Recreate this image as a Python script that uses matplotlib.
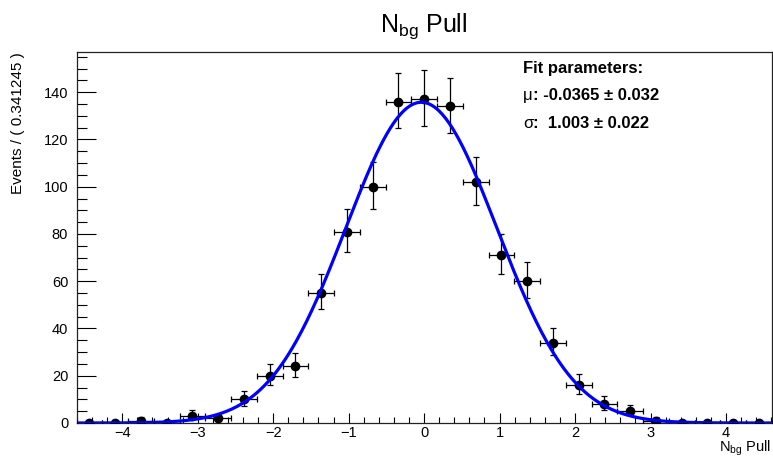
import numpy as np
import matplotlib
matplotlib.use("Agg")
import matplotlib.pyplot as plt
from matplotlib.ticker import MultipleLocator

plt.rcParams['font.family'] = ['Liberation Sans', 'DejaVu Sans']
plt.rcParams['mathtext.fontset'] = 'custom'
plt.rcParams['mathtext.rm'] = 'Liberation Sans'
plt.rcParams['mathtext.it'] = 'Liberation Sans:italic'
plt.rcParams['mathtext.bf'] = 'Liberation Sans:bold'
plt.rcParams['axes.unicode_minus'] = True

# binned pull distribution (27 bins of width 0.341245)
bin_width = 0.341245
x_lo, n_bins = -4.606, 27
counts = [0, 0, 1, 0, 3, 2, 10, 20, 24, 55, 81, 100, 136, 137,
          134, 102, 71, 60, 34, 16, 8, 5, 1, 0, 0, 0, 0]

# fit result
mu, mu_err = -0.0365, 0.032
sigma, sigma_err = 1.003, 0.022

centers = x_lo + bin_width * (np.arange(n_bins) + 0.5)
n = np.array(counts, dtype=float)
# approximate Poisson intervals
err_lo = np.where(n > 0, np.sqrt(n + 0.25) - 0.5, 0)
err_hi = np.where(n > 0, np.sqrt(n + 0.25) + 0.5, 0)

fig = plt.figure(figsize=(7.73, 4.57), dpi=100)
ax = fig.add_axes([76.5 / 773, 1 - 423 / 457, (771.7 - 76.5) / 773, (423 - 52) / 457])

ax.errorbar(centers, n, xerr=bin_width / 2, yerr=[err_lo, err_hi], fmt='o',
            color='black', ms=6, elinewidth=0.9, capsize=2, capthick=0.9, zorder=3)

xs = np.linspace(x_lo, -x_lo, 400)
norm = n.sum() * bin_width / (np.sqrt(2 * np.pi) * sigma)
ax.plot(xs, norm * np.exp(-0.5 * ((xs - mu) / sigma) ** 2), color='#0000ff', lw=2.3, zorder=4)

ax.set_xlim(x_lo, -x_lo)
ax.set_ylim(0, 157)
ax.xaxis.set_major_locator(MultipleLocator(1))
ax.xaxis.set_minor_locator(MultipleLocator(0.2))
ax.yaxis.set_major_locator(MultipleLocator(20))
ax.yaxis.set_minor_locator(MultipleLocator(5))
ax.tick_params(axis='both', which='both', direction='in', top=False, right=False,
               labelsize=10.5, width=0.8)
ax.tick_params(axis='y', which='major', length=14, pad=6)
ax.tick_params(axis='y', which='minor', length=7)
ax.tick_params(axis='x', which='major', length=7.5, pad=2.5)
ax.tick_params(axis='x', which='minor', length=4)
for s in ax.spines.values():
    s.set_linewidth(0.9)
    s.set_color('#222222')

fig.text(424 / 773, 1 - 32 / 457, r"N$_{\mathrm{bg}}$ Pull", ha='center', va='baseline', fontsize=18)
fig.text(18 / 773, 1 - 52 / 457, "Events / ( 0.341245 )", rotation=90, ha='center', va='top', fontsize=11)
fig.text(771 / 773, 1 - 452 / 457, r"N$_{\mathrm{bg}}$ Pull", ha='right', va='baseline', fontsize=10.5)

tx = 523 / 773
fs = 12
fig.text(tx, 1 - 73 / 457, "Fit parameters:", fontweight='bold', fontsize=fs, va='baseline')
fig.text(tx, 1 - 100 / 457, "μ", fontsize=fs, va='baseline')
fig.text(533 / 773, 1 - 100 / 457, f": {mu} ± {mu_err}", fontweight='bold', fontsize=fs, va='baseline')
fig.text(tx, 1 - 128 / 457, "σ", fontsize=fs, va='baseline')
fig.text(533 / 773, 1 - 128 / 457, f":  {sigma} ± {sigma_err}", fontweight='bold', fontsize=fs, va='baseline')

fig.savefig("out.png", dpi=100)
